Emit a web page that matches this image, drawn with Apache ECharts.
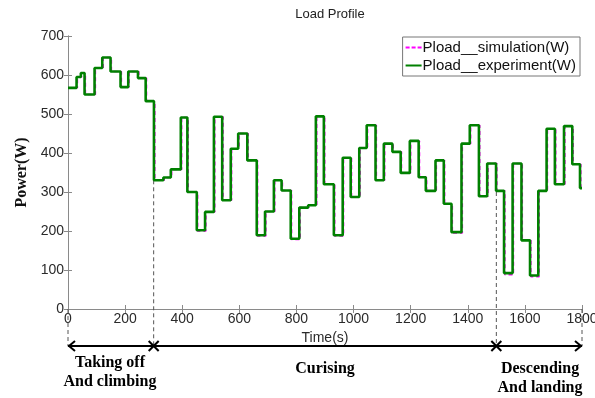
<!DOCTYPE html>
<html>
<head>
<meta charset="utf-8">
<script src="https://cdn.jsdelivr.net/npm/echarts@6/dist/echarts.min.js"></script>
<style>
  html, body { margin: 0; padding: 0; background: #fff; }
  #chart { width: 595px; height: 398px; }
</style>
</head>
<body>
<div id="chart"></div>
<script>
// Step start times (s) and measured load power (W) of the experiment
const expTimes = [0, 30, 45, 58, 93, 120, 149, 184, 211, 245, 272, 301, 334, 360, 395, 418, 451, 480, 511, 540,
  570, 596, 628, 661, 690, 721, 748, 780, 810, 841, 868, 896, 931, 962, 990, 1020, 1046, 1077, 1106, 1136,
  1165, 1197, 1228, 1253, 1287, 1316, 1343, 1378, 1407, 1439, 1468, 1499, 1527, 1557, 1588, 1618, 1647, 1676,
  1705, 1737, 1766, 1793, 1800];
const expPower = [567, 595, 605, 550, 618, 645, 609, 569, 609, 592, 533, 330, 337, 358, 491, 300, 202, 249, 493, 279,
  411, 450, 381, 189, 250, 330, 304, 180, 260, 266, 494, 320, 189, 388, 287, 413, 471, 330, 424, 403,
  349, 431, 338, 303, 381, 270, 197, 424, 471, 289, 373, 303, 92, 373, 176, 86, 303, 462,
  320, 469, 371, 310, 310];

// Simulated load power (W), steps switch a little later than the measurement
const simTimes = [0, 33, 48, 61, 96, 123, 152, 187, 214, 248, 275, 304, 337, 363, 398, 421, 454, 483, 514, 543,
  573, 599, 631, 664, 693, 724, 751, 783, 813, 844, 871, 899, 934, 965, 993, 1023, 1049, 1080, 1109, 1139,
  1168, 1200, 1231, 1256, 1290, 1319, 1346, 1381, 1410, 1442, 1471, 1502, 1530, 1560, 1591, 1621, 1650, 1679,
  1708, 1740, 1769, 1796, 1800];
const simPower = [567, 595, 605, 550, 618, 645, 609, 569, 609, 592, 533, 330, 337, 358, 491, 300, 200, 249, 493, 279,
  411, 450, 381, 187, 250, 330, 304, 178, 260, 266, 494, 320, 187, 388, 287, 413, 471, 330, 424, 403,
  349, 431, 338, 303, 381, 270, 195, 424, 471, 289, 373, 303, 88, 373, 176, 83, 303, 462,
  320, 469, 371, 310, 310];

// Flight phases along the time axis
const phaseBounds = [0, 300, 1500, 1800];
const phaseTopPower = [0, 330, 300, 0];
const phaseNames = ['Taking off\nAnd climbing', 'Curising', 'Descending\nAnd landing'];
const phaseCenters = [147, 900, 1653];

const xTicks = { min: 0, max: 1800, interval: 200 };
const yTicks = { min: 0, max: 700, interval: 100 };

const seriesNames = ['Pload__simulation(W)', 'Pload__experiment(W)'];

function pairs(ts, vs) { return ts.map((t, i) => [t, vs[i]]); }

const chart = echarts.init(document.getElementById('chart'), null, { renderer: 'canvas' });

const axisColor = '#8a8a8a';
const sans = 'Liberation Sans, Arial, sans-serif';
const serif = 'Liberation Serif, Times New Roman, serif';
const labelFont = { color: '#2a2a2a', fontSize: 14, fontFamily: sans };
const plain = v => String(v);

// legend keys: dashed and solid short strokes
const dashedKey = 'path://M0,0h4v2h-4z M6,0h4v2h-4z M12,0h4v2h-4z';
const solidKey = 'path://M0,0h16v2h-16z';

chart.setOption({
  animation: false,
  backgroundColor: '#fff',
  title: {
    text: 'Load Profile',
    left: 325,
    top: 3,
    textAlign: 'center',
    textStyle: { fontSize: 13, fontWeight: 'normal', color: '#222', fontFamily: sans }
  },
  grid: { left: 68, right: 13, top: 36, bottom: 89, outerBoundsMode: 'none' },
  legend: {
    right: 15,
    top: 37,
    orient: 'vertical',
    itemWidth: 16,
    itemHeight: 2,
    itemGap: 3,
    padding: [3, 4, 3, 3],
    borderColor: '#777',
    borderWidth: 1,
    backgroundColor: '#fff',
    borderRadius: 0,
    data: [
      { name: seriesNames[0], icon: dashedKey },
      { name: seriesNames[1], icon: solidKey }
    ],
    textStyle: { fontSize: 15, color: '#111', fontFamily: sans, padding: [0, 0, 0, -4] }
  },
  xAxis: [{
    type: 'value',
    min: xTicks.min, max: xTicks.max, interval: xTicks.interval,
    name: 'Time(s)',
    nameLocation: 'middle',
    nameGap: 13,
    nameTextStyle: labelFont,
    axisLine: { show: true, lineStyle: { color: axisColor } },
    axisTick: { show: true, inside: true, length: 4, lineStyle: { color: axisColor } },
    axisLabel: Object.assign({ margin: 3, formatter: plain }, labelFont),
    splitLine: { show: false }
  }, {
    type: 'value', position: 'top',
    min: xTicks.min, max: xTicks.max, interval: xTicks.interval,
    axisLine: { show: true, lineStyle: { color: axisColor } },
    axisTick: { show: true, inside: true, length: 4, lineStyle: { color: axisColor } },
    axisLabel: { show: false },
    splitLine: { show: false }
  }],
  yAxis: [{
    type: 'value',
    min: yTicks.min, max: yTicks.max, interval: yTicks.interval,
    name: 'Power(W)',
    nameLocation: 'middle',
    nameGap: 34,
    nameTextStyle: { fontSize: 16, fontWeight: 'bold', color: '#111', fontFamily: serif },
    axisLine: { show: true, lineStyle: { color: axisColor } },
    axisTick: { show: true, inside: true, length: 4, lineStyle: { color: axisColor } },
    axisLabel: Object.assign({ margin: 4, formatter: plain }, labelFont),
    splitLine: { show: false }
  }, {
    type: 'value', position: 'right',
    min: yTicks.min, max: yTicks.max, interval: yTicks.interval,
    axisLine: { show: true, lineStyle: { color: axisColor } },
    axisTick: { show: true, inside: true, length: 4, lineStyle: { color: axisColor } },
    axisLabel: { show: false },
    splitLine: { show: false }
  }],
  series: [{
    name: seriesNames[0],
    type: 'line',
    step: 'end',
    symbol: 'none',
    data: pairs(simTimes, simPower),
    lineStyle: { color: '#ff00ff', width: 1.5, type: [4, 3] },
    itemStyle: { color: '#ff00ff' },
    z: 2
  }, {
    name: seriesNames[1],
    type: 'line',
    step: 'end',
    symbol: 'none',
    data: pairs(expTimes, expPower),
    lineStyle: { color: '#008000', width: 2.6 },
    itemStyle: { color: '#008000' },
    z: 3
  }]
});

// Phase annotation under the time axis
const arrowY = 346;
const gfx = [];
const px = phaseBounds.map(t => chart.convertToPixel({ xAxisIndex: 0 }, t));
const topY = phaseTopPower.map(p => chart.convertToPixel({ yAxisIndex: 0 }, p));

px.forEach((x, i) => {
  gfx.push({
    type: 'line', z: 1,
    shape: { x1: x, y1: topY[i], x2: x, y2: arrowY },
    style: { stroke: '#555', lineWidth: 1, lineDash: [4, 3] }
  });
});

gfx.push({
  type: 'line', z: 5,
  shape: { x1: px[0], y1: arrowY, x2: px[3], y2: arrowY },
  style: { stroke: '#000', lineWidth: 2 }
});
gfx.push({
  type: 'polyline', z: 5,
  shape: { points: [[px[0] + 7, arrowY - 5], [px[0] + 1, arrowY], [px[0] + 7, arrowY + 5]] },
  style: { stroke: '#000', lineWidth: 2, fill: null }
});
gfx.push({
  type: 'polyline', z: 5,
  shape: { points: [[px[3] - 7, arrowY - 5], [px[3] - 1, arrowY], [px[3] - 7, arrowY + 5]] },
  style: { stroke: '#000', lineWidth: 2, fill: null }
});
[px[1], px[2]].forEach(x => {
  gfx.push({ type: 'line', z: 5, shape: { x1: x - 5, y1: arrowY - 5, x2: x + 5, y2: arrowY + 5 }, style: { stroke: '#000', lineWidth: 2 } });
  gfx.push({ type: 'line', z: 5, shape: { x1: x - 5, y1: arrowY + 5, x2: x + 5, y2: arrowY - 5 }, style: { stroke: '#000', lineWidth: 2 } });
});

const labelTops = [353, 359, 359];
phaseNames.forEach((name, i) => {
  gfx.push({
    type: 'text', z: 5,
    style: {
      text: name,
      x: chart.convertToPixel({ xAxisIndex: 0 }, phaseCenters[i]),
      y: labelTops[i],
      align: 'center',
      verticalAlign: 'top',
      fontSize: 16,
      fontWeight: 'bold',
      fontFamily: serif,
      lineHeight: 19,
      fill: '#000'
    }
  });
});

chart.setOption({ graphic: gfx });
</script>
</body>
</html>
